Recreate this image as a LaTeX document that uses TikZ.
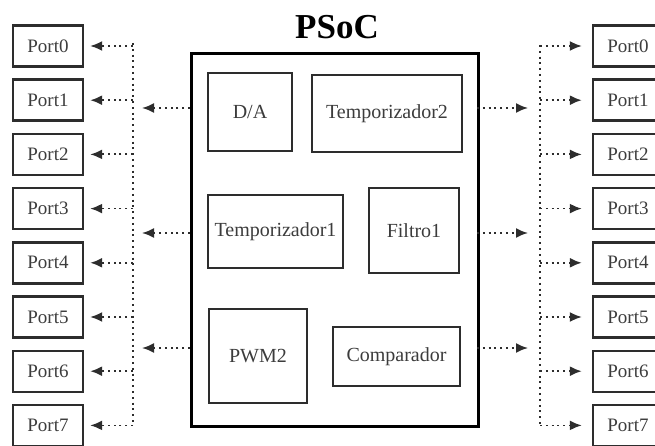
\documentclass[tikz,border=0pt]{standalone}
\usepackage{fontspec}
\setmainfont{Liberation Serif}
\usetikzlibrary{arrows.meta}
\definecolor{ink}{RGB}{45,45,45}
\definecolor{txt}{RGB}{60,60,60}
\tikzset{
  port/.style={draw=ink, line width=2.4pt, minimum width=70pt, minimum height=41pt, inner sep=0pt, font=\fontsize{19}{19}\selectfont, text=txt},
  block/.style={draw=ink, line width=2pt, inner sep=0pt, font=\fontsize{20}{20}\selectfont, text=txt},
  chip/.style={draw=black, line width=3.4pt, inner sep=0pt},
  sig/.style={draw=ink, line width=1.8pt, dash pattern=on 2pt off 3.8pt, -{Latex[length=12pt,width=10pt]}},
  bus/.style={draw=ink, line width=1.8pt, dash pattern=on 2pt off 3.8pt},
}
\begin{document}
\begin{tikzpicture}[x=1pt,y=-1pt]
\useasboundingbox (0,0) rectangle (655,446);
\clip (0,0) rectangle (655,446);
% chip
\node[chip, minimum width=287pt, minimum height=373pt, anchor=north west] (psoc) at (190,52) {};
\node[font=\fontsize{35}{35}\selectfont\bfseries, text=black] (title) at (337,27) {PSoC};
% inner blocks
\node[block, minimum width=84pt, minimum height=78pt, anchor=north west] (da) at (207,72) {D/A};
\node[block, minimum width=150pt, minimum height=77pt, anchor=north west] (t2) at (311,74) {Temporizador2};
\node[block, minimum width=135pt, minimum height=73pt, anchor=north west] (t1) at (207,194) {Temporizador1};
\node[block, minimum width=90pt, minimum height=85pt, anchor=north west] (f1) at (368,187) {Filtro1};
\node[block, minimum width=98pt, minimum height=94pt, anchor=north west] (pwm) at (208,308) {PWM2};
\node[block, minimum width=127pt, minimum height=59pt, anchor=north west] (cmp) at (332,326) {Comparador};
% ports
\foreach \i in {0,...,7}{
  \node[port] (L\i) at (48,{46+54.2*\i}) {Port\i};
  \node[port] (R\i) at (628,{46+54.2*\i}) {Port\i};
}
% buses
\coordinate (lbt) at (133,43);
\coordinate (lbb) at (133,425);
\coordinate (rbt) at (540,45);
\coordinate (rbb) at (540,425);
\draw[bus] (lbt) -- (lbb);
\draw[bus] (rbt) -- (rbb);
\foreach \i in {0,...,7}{
  \draw[sig, shorten >=6pt] (lbt |- L\i) -- (L\i.east);
  \draw[sig, shorten >=10pt] (rbt |- R\i) -- (R\i.west);
}
% chip outputs
\coordinate (a1) at (190,108);
\coordinate (a2) at (190,233);
\coordinate (a3) at (190,348);
\coordinate (b1) at (477,108);
\coordinate (b2) at (477,233);
\coordinate (b3) at (477,348);
\foreach \c in {a1,a2,a3}{
  \draw[sig, shorten >=9pt] (\c) -- (lbt |- \c);
}
\foreach \c in {b1,b2,b3}{
  \draw[sig, shorten >=12pt] (\c) -- (rbt |- \c);
}
\end{tikzpicture}
\end{document}
